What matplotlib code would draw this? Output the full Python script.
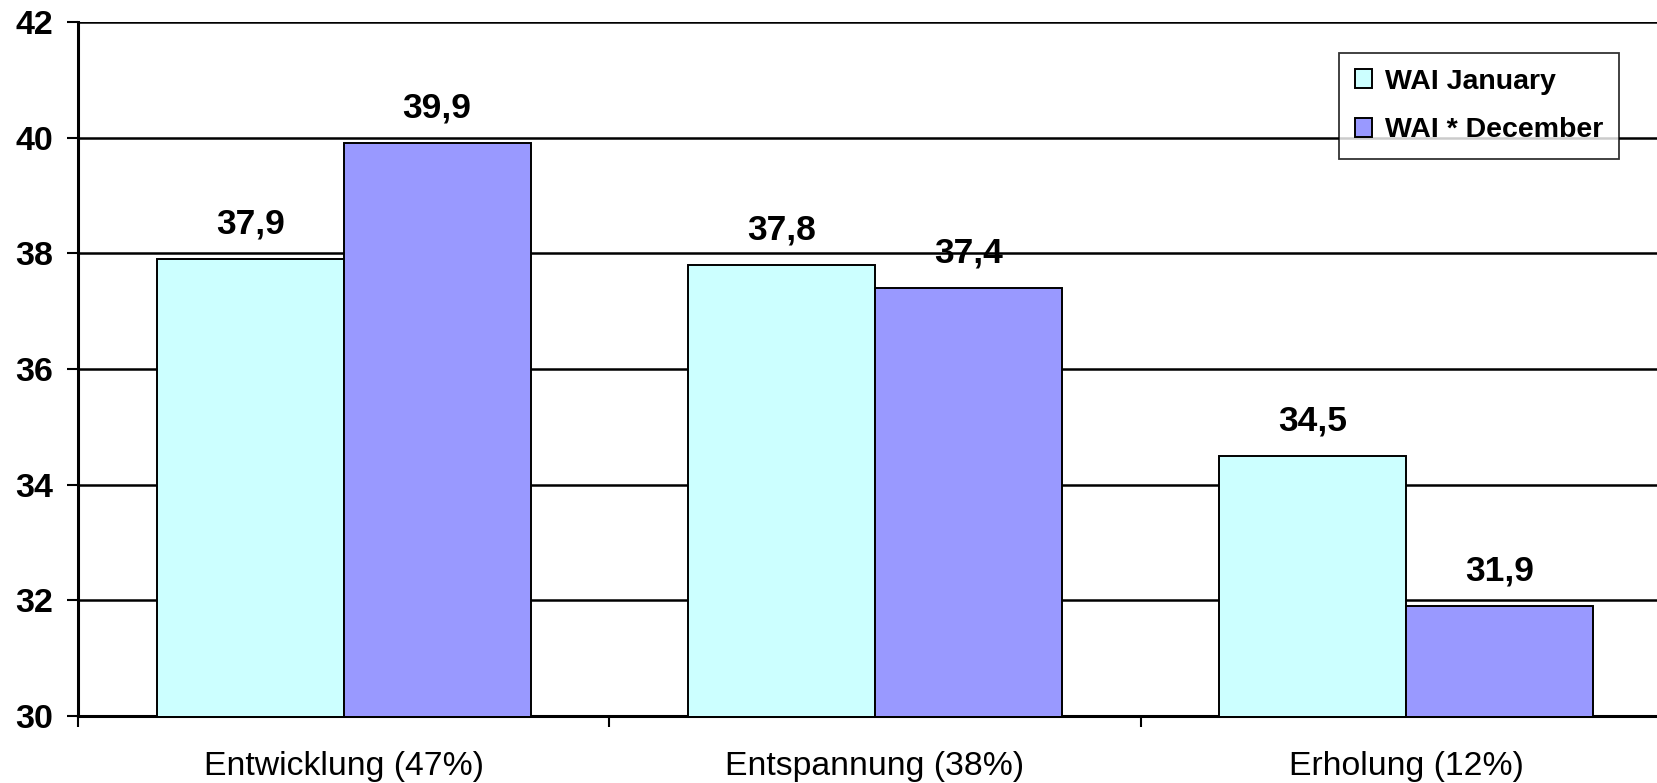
import matplotlib.pyplot as plt
import numpy as np

plt.rcParams['font.family'] = ['Liberation Sans', 'DejaVu Sans']

# categories and WAI scores
categories = ['Entwicklung (47%)', 'Entspannung (38%)', 'Erholung (12%)']
wai_january = [37.9, 37.8, 34.5]
wai_december = [39.9, 37.4, 31.9]
series_names = ['WAI January', 'WAI * December']
colors = ['#CCFFFF', '#9999FF']
yticks = [30, 32, 34, 36, 38, 40, 42]

W, H = 1657, 783
fig = plt.figure(figsize=(W / 100, H / 100), dpi=100)
# axes runs past the right edge of the figure, like a cropped export
ax = fig.add_axes([78 / W, 67 / H, 1594 / W, 694 / H])

x = np.arange(len(categories))
bw = 0.352
bars1 = ax.bar(x - bw / 2, wai_january, bw, color=colors[0],
               edgecolor='black', linewidth=1.4, label=series_names[0], zorder=3)
bars2 = ax.bar(x + bw / 2, wai_december, bw, color=colors[1],
               edgecolor='black', linewidth=1.4, label=series_names[1], zorder=3)

for bars, vals in ((bars1, wai_january), (bars2, wai_december)):
    for b, v in zip(bars, vals):
        ax.annotate(f'{v:.1f}'.replace('.', ','),
                    (b.get_x() + b.get_width() / 2, v),
                    xytext=(0, 13.5), textcoords='offset points',
                    ha='center', va='bottom', fontsize=25.5, fontweight='bold',
                    zorder=5)

ax.set_ylim(30, 42)
ax.set_xlim(-0.5, 2.5)
ax.set_yticks(yticks)
ax.set_yticklabels([str(t) for t in yticks], fontsize=24.5, fontweight='bold')
ax.yaxis.grid(True, color='black', linewidth=1.8, zorder=1)
ax.set_axisbelow(True)

# category boundaries get the tick marks, labels sit in the middle
ax.set_xticks([-0.5, 0.5, 1.5, 2.5])
ax.set_xticklabels([])
ax.set_xticks(x, minor=True)
ax.set_xticklabels(categories, minor=True, fontsize=24.3)
ax.tick_params(axis='x', which='minor', length=0, pad=25)
ax.tick_params(axis='x', which='major', length=8, width=1.5, direction='out')
ax.tick_params(axis='y', length=8, width=1.5, direction='out', pad=10)

for s in ('top', 'right'):
    ax.spines[s].set_visible(False)
for s in ('left', 'bottom'):
    ax.spines[s].set_linewidth(2.2)

leg = ax.legend(loc='upper left', bbox_to_anchor=(1339 / W, 1 - 53 / H),
                bbox_transform=fig.transFigure, frameon=True, fancybox=False,
                prop={'size': 20.5, 'weight': 'bold'}, handlelength=0.62,
                handleheight=0.62, handletextpad=0.45, borderpad=0.55,
                labelspacing=0.8, borderaxespad=0)
leg.get_frame().set_edgecolor('black')
leg.get_frame().set_linewidth(1.3)
leg.set_zorder(6)

fig.savefig('out.png', dpi=100)
